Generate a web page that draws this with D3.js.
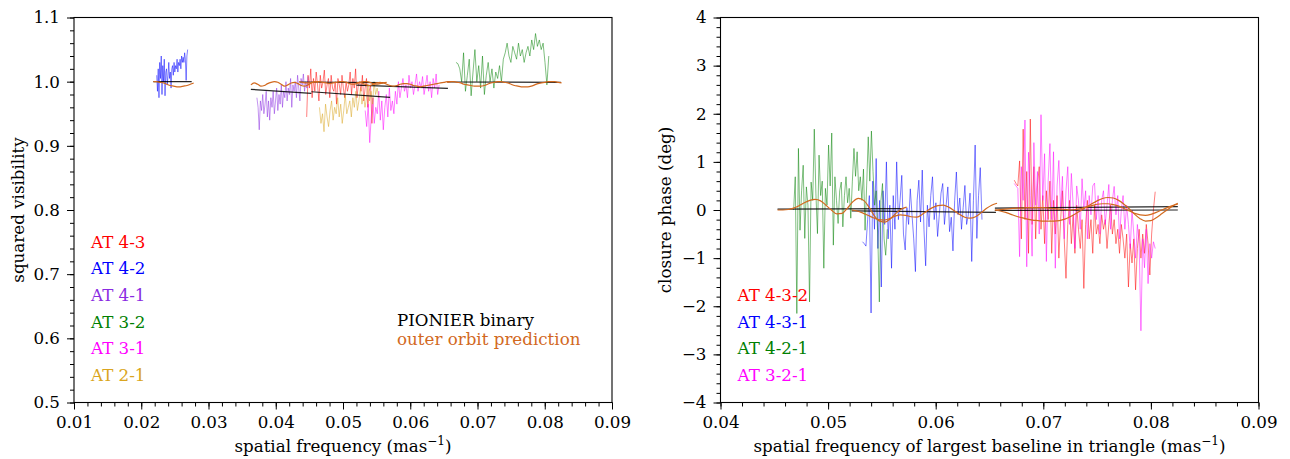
<!DOCTYPE html>
<html>
<head>
    <meta charset="utf-8">
    <title>PIONIER squared visibility and closure phase</title>
    <script src="https://d3js.org/d3.v7.min.js"></script>
    <style>
        body { margin: 0; background: #fff; }
        text { font-family: "DejaVu Serif", serif; }
    </style>
</head>
<body>
<div id="chart"></div>
<script>
// ---- squared visibility, one array per baseline, plus its frequency range ----
const v2_43 = [0.945, 1.010, 0.990, 1.020, 0.975, 1.005, 0.985, 1.015, 0.995, 0.970, 1.010, 0.990, 1.000, 1.018, 0.980,
    0.995, 1.005, 0.975, 1.010, 0.990, 0.985, 1.000, 0.965, 1.005, 0.995, 0.980, 1.010, 0.990, 0.975, 1.000, 0.985,
    0.995, 1.015, 0.980, 1.005, 0.990, 1.020, 0.975, 0.995, 1.000, 0.985, 1.010, 0.970, 0.990, 1.005, 0.960, 0.985,
    0.995, 0.935, 0.975];
const v2_42 = [1.010, 0.985, 1.020, 0.975, 1.030, 1.005, 1.040, 0.980, 1.025, 1.000, 1.035, 0.978, 1.015, 1.020, 0.995,
    1.010, 1.030, 1.005, 1.015, 0.990, 1.020, 1.025, 1.010, 1.030, 1.015, 1.025, 1.020, 1.035, 1.015, 1.030, 1.025,
    1.035, 1.020, 1.040, 1.030, 1.038, 1.030, 1.045, 1.035, 1.002, 1.040, 1.050];
const v2_41 = [0.975, 0.960, 0.925, 0.970, 0.955, 0.980, 0.950, 0.965, 0.985, 0.945, 0.970, 0.940, 0.975, 0.960, 0.985,
    0.950, 0.970, 0.990, 0.955, 0.980, 0.965, 0.995, 0.960, 0.985, 0.975, 1.000, 0.970, 0.990, 0.980, 1.005, 0.960,
    0.995, 0.985, 1.000, 0.975, 1.010, 0.990, 0.970, 1.005, 0.995, 1.012, 0.985, 1.000, 0.990, 1.008];
const v2_32 = [1.030, 1.028, 1.020, 1.000, 1.045, 0.985, 1.010, 1.035, 0.978, 1.015, 1.050, 1.000, 1.025, 0.990, 1.040,
    0.980, 1.010, 1.030, 1.000, 1.020, 0.990, 1.015, 1.005, 1.025, 1.000, 1.035, 1.045, 1.060, 1.040, 1.030, 1.055,
    1.045, 1.035, 1.060, 1.040, 1.050, 1.030, 1.045, 1.055, 1.040, 1.065, 1.050, 1.075, 1.055, 1.065, 1.050, 1.060,
    1.030, 0.995, 1.040];
const v2_31 = [0.955, 0.930, 0.965, 0.905, 0.945, 0.975, 0.935, 0.960, 0.950, 0.985, 0.940, 0.970, 0.925, 0.960, 0.980,
    0.945, 0.990, 0.955, 0.970, 0.950, 0.985, 0.965, 1.000, 0.975, 0.990, 1.005, 0.985, 0.995, 0.975, 1.010, 0.990,
    1.000, 0.980, 0.995, 1.012, 0.985, 1.000, 0.990, 1.008, 0.980, 0.995, 1.010, 0.985, 1.000, 0.975, 1.005, 0.990,
    1.012, 0.980, 0.995];
const v2_21 = [0.960, 0.935, 0.950, 0.922, 0.965, 0.945, 0.930, 0.955, 0.970, 0.940, 0.960, 0.950, 0.975, 0.945, 0.965,
    0.935, 0.955, 0.980, 0.950, 0.960, 0.970, 0.945, 0.975, 0.960, 0.985, 0.955, 0.970, 0.990, 0.965, 0.980, 0.960,
    0.975, 0.995, 0.970, 0.985, 0.965, 1.000, 0.980, 0.990, 0.975];

const v2Freq43 = [0.0446, 0.0545];
const v2Freq42 = [0.0223, 0.0269];
const v2Freq41 = [0.0372, 0.0448];
const v2Freq32 = [0.0668, 0.0806];
const v2Freq31 = [0.0533, 0.0643];
const v2Freq21 = [0.0465, 0.0553];

// binary model (straight segments) and outer orbit prediction for V2
const v2Model = [
    [[0.0218, 1.000], [0.0275, 1.000]],
    [[0.0363, 0.988], [0.0453, 0.9817]],
    [[0.0453, 0.9843], [0.0570, 0.9754]],
    [[0.0435, 0.9995], [0.0560, 0.9985]],
    [[0.0520, 0.9947], [0.0656, 0.9894]],
    [[0.0655, 0.9995], [0.0824, 0.9990]]
];
const v2Pred42 = [1.000, 1.000, 0.999, 0.998, 0.996, 0.994, 0.993, 0.992, 0.992, 0.993, 0.994, 0.996, 0.998];
const v2Pred41 = [0.995, 0.998, 0.996, 0.993, 0.994, 0.997, 0.999, 1.000, 0.999, 0.996, 0.993, 0.995, 0.998, 0.999,
    0.997, 0.994, 0.993, 0.995, 0.998, 1.000, 0.999];
const v2Pred43 = [1.000, 0.999, 0.998, 0.998, 0.999, 1.000, 1.000, 0.999, 0.998, 0.997, 0.998, 0.999, 1.000, 1.000,
    0.999, 0.997, 0.996, 0.997, 0.999, 1.000, 1.000, 0.999, 0.997, 0.996, 0.997, 0.998, 0.999];
const v2Pred31 = [0.998, 0.999, 0.997, 0.995, 0.994, 0.996, 0.998, 0.999, 0.998, 0.996, 0.994, 0.993, 0.994, 0.996,
    0.997, 0.997, 0.996, 0.994, 0.993, 0.992, 0.993, 0.994, 0.995, 0.996, 0.997, 0.998, 0.999, 1.000, 1.000];
const v2Pred32 = [0.999, 1.000, 1.000, 0.999, 0.998, 0.996, 0.995, 0.994, 0.993, 0.993, 0.993, 0.994, 0.996, 0.998,
    0.999, 1.000, 1.000, 0.999, 0.998, 0.996, 0.994, 0.993, 0.992, 0.992, 0.992, 0.993, 0.995, 0.997, 0.998, 0.999,
    1.000, 1.000, 1.000, 0.999, 0.998];
const v2PredFreq42 = [0.0218, 0.0278];
const v2PredFreq41 = [0.0363, 0.0463];
const v2PredFreq43 = [0.0435, 0.0565];
const v2PredFreq31 = [0.0520, 0.0660];
const v2PredFreq32 = [0.0655, 0.0825];

// ---- closure phases (deg), one array per triangle ----
const cp_432 = [0.62, 0.55, 0.50, 1.02, -0.60, 1.68, -0.20, 0.80, -0.90, 1.89, -0.30, 0.90, -0.60, 0.50, 0.90, -0.40,
    0.30, -0.70, 0.40, -0.20, 0.60, -0.90, 0.20, -0.50, 0.30, -1.00, -0.20, 0.40, -0.60, -1.42, -0.30, 0.20, -0.70,
    -0.10, -0.90, 0.10, -0.40, -0.80, -0.20, -1.63, -0.30, 0.20, -0.60, -0.20, -0.90, 0.10, -0.50, -0.30, -0.70,
    -0.10, -0.40, -0.20, -0.80, -0.30, 0.10, -0.50, -0.20, -0.70, -0.40, -0.90, -0.30, -0.60, -1.00, -0.50, -1.60,
    -0.70, -1.10, -0.60, -1.66, -0.80, -0.40, -1.00, -0.50, -0.90, -0.30, -0.70, -1.35, -0.50, 0.00, 0.38];
const cp_431 = [-0.66, -0.70, -0.75, -0.20, 0.30, -2.14, 0.60, -0.40, 1.07, -0.80, 0.20, -1.60, 0.40, -0.30, 1.00,
    -0.60, 0.10, -1.21, 0.30, -0.40, 1.00, -0.20, 0.20, 0.72, -0.50, -0.83, 0.05, -0.30, 0.44, -0.10, -0.60, -1.28,
    0.20, 0.62, -0.25, 0.83, -0.40, -1.16, 0.10, -0.35, 0.30, 0.69, -0.20, 0.15, -0.55, -0.10, 0.35, 0.55, -0.30,
    0.10, 0.48, -0.45, -0.15, -0.85, 0.20, 0.79, -0.10, 0.25, -0.40, 0.05, 0.51, -0.30, -0.10, 0.35, -1.07, 0.20,
    1.35, -0.59, 0.30, 0.88, -0.20];
const cp_421 = [0.00, 0.69, -2.15, 1.28, -0.42, 0.40, 0.93, -0.59, 0.48, 0.10, -1.91, 0.58, 0.20, 1.68, 0.35, -0.49,
    1.14, 0.30, 0.60, -1.21, 0.45, 0.10, 1.35, 0.50, 1.60, -0.73, 0.69, 0.20, -0.28, 0.40, 0.58, -0.35, 0.30, 0.69,
    0.15, 0.45, -0.17, 0.60, 1.28, 0.70, 1.21, 0.40, 0.69, 0.20, 0.85, -0.42, 0.50, 1.52, 0.60, 1.64, 0.80, 0.10,
    0.40, -0.50, -1.91, 0.20, 0.55, -0.60, -0.94, -0.40];
const cp_321 = [0.55, 0.50, 0.45, -0.97, 0.90, 0.20, 1.87, -1.18, 1.20, 0.30, -0.96, 1.40, 0.10, 0.80, -0.50, 1.98,
    0.20, 1.17, -1.07, 0.60, 1.38, -0.20, 1.21, -1.21, 0.50, 1.03, 0.00, 0.70, -0.60, 0.40, 0.90, -0.30, 0.76, 0.10,
    -0.80, 0.50, 0.20, -0.40, 0.65, 0.00, 0.40, -0.60, 0.30, -0.10, 0.50, 0.56, -0.20, 0.30, -0.50, 0.20, 0.40, -0.30,
    0.10, 0.53, -0.40, 0.20, 0.49, -0.10, 0.30, -0.60, 0.00, 0.30, -0.40, 0.10, -0.30, -0.80, 0.00, -0.50, -1.00,
    -0.30, -0.70, -2.51, -0.60, -1.20, -0.40, -1.53, -0.70, -1.00, -0.66, -0.80];

const cpFreq432 = [0.0673, 0.0804];
const cpFreq431 = [0.0532, 0.0643];
const cpFreq421 = [0.0468, 0.0555];
const cpFreq321 = [0.0673, 0.0804];

const cpModel = [
    [[0.0453, 0.02], [0.0570, 0.03]],
    [[0.0522, -0.02], [0.0656, -0.05]],
    [[0.0655, 0.04], [0.0825, 0.07]],
    [[0.0655, -0.01], [0.0825, 0.00]]
];
const cpPred421 = [0.00, 0.00, 0.01, 0.04, 0.09, 0.15, 0.20, 0.22, 0.19, 0.10, 0.00, -0.08, -0.07, 0.04, 0.17, 0.24,
    0.20, 0.06, -0.12, -0.23, -0.25, -0.18, -0.07, 0.02, 0.06];
const cpPred431 = [0.00, -0.02, -0.06, -0.11, -0.16, -0.20, -0.21, -0.18, -0.13, -0.10, -0.11, -0.14, -0.15, -0.10,
    -0.02, 0.05, 0.09, 0.10, 0.06, -0.01, -0.09, -0.15, -0.17, -0.14, -0.06, 0.03, 0.10, 0.14];
const cpPred432 = [0.00, -0.02, -0.05, -0.09, -0.13, -0.16, -0.19, -0.21, -0.22, -0.23, -0.23, -0.23, -0.22, -0.19,
    -0.14, -0.08, -0.01, 0.06, 0.13, 0.19, 0.24, 0.26, 0.25, 0.20, 0.12, 0.02, -0.09, -0.18, -0.23, -0.22, -0.16,
    -0.08, 0.00, 0.08, 0.14];
const cpPred321 = [0.00, 0.01, 0.02, 0.03, 0.04, 0.04, 0.05, 0.05, 0.05, 0.05, 0.04, 0.03, 0.02, 0.01, 0.00, 0.01,
    0.03, 0.06, 0.09, 0.12, 0.13, 0.13, 0.11, 0.08, 0.03, -0.02, -0.07, -0.10, -0.11, -0.09, -0.05, 0.00, 0.05, 0.09,
    0.12];
const cpPredFreq421 = [0.0453, 0.0573];
const cpPredFreq431 = [0.0522, 0.0657];
const cpPredFreq432 = [0.0655, 0.0825];
const cpPredFreq321 = [0.0655, 0.0825];

// ticks
const v2XTicks = [0.01, 0.02, 0.03, 0.04, 0.05, 0.06, 0.07, 0.08, 0.09];
const v2YTicks = [0.5, 0.6, 0.7, 0.8, 0.9, 1.0, 1.1];
const cpXTicks = [0.04, 0.05, 0.06, 0.07, 0.08, 0.09];
const cpYTicks = [-4, -3, -2, -1, 0, 1, 2, 3, 4];

const width = 1290;
const height = 459;
const fs = 16.7;
const plotW = 538;
const plotTop = 17.5;
const plotBottom = 402.5;
const predColor = '#d2691e';

const svg = d3.select('#chart')
    .append('svg')
    .attr('width', width)
    .attr('height', height);

svg.append('rect').attr('width', width).attr('height', height).attr('fill', '#fff');

// spread the spectral channels of one series evenly over its frequency range
function toPoints(values, freq) {
    const idx = d3.scaleLinear().domain([0, values.length - 1]).range(freq);
    return values.map((v, i) => [idx(i), v]);
}

function drawPanel(p) {
    const x = d3.scaleLinear().domain(p.xDomain).range([p.left, p.left + plotW]);
    const y = d3.scaleLinear().domain(p.yDomain).range([plotBottom, plotTop]);
    const g = svg.append('g');
    const line = d3.line().x(d => x(d[0])).y(d => y(d[1]));

    // minor ticks
    g.append('g')
        .attr('transform', `translate(0,${plotBottom})`)
        .call(d3.axisBottom(x).tickValues(p.xMinor).tickSize(4).tickFormat(''));
    g.append('g')
        .attr('transform', `translate(${p.left},0)`)
        .call(d3.axisLeft(y).tickValues(p.yMinor).tickSize(4).tickFormat(''));
    // major ticks
    g.append('g')
        .attr('transform', `translate(0,${plotBottom})`)
        .call(d3.axisBottom(x).tickValues(p.xTicks).tickSize(7).tickPadding(7).tickFormat(d3.format('.2f')));
    g.append('g')
        .attr('transform', `translate(${p.left},0)`)
        .call(d3.axisLeft(y).tickValues(p.yTicks).tickSize(7).tickPadding(7).tickFormat(p.yFormat));
    g.selectAll('.domain').remove();
    g.selectAll('.tick line').attr('stroke', '#000');
    g.selectAll('.tick text')
        .attr('font-family', '"DejaVu Serif", serif')
        .attr('font-size', fs)
        .attr('fill', '#000');

    // data
    p.series.forEach(s => {
        g.append('path')
            .datum(toPoints(s.values, s.freq))
            .attr('d', line)
            .attr('fill', 'none')
            .attr('stroke', s.color)
            .attr('stroke-opacity', 0.5)
            .attr('stroke-width', 1);
    });
    p.models.forEach(m => {
        g.append('path')
            .datum(m)
            .attr('d', line)
            .attr('fill', 'none')
            .attr('stroke', '#000')
            .attr('stroke-opacity', 0.85)
            .attr('stroke-width', 1.2);
    });
    p.preds.forEach(s => {
        g.append('path')
            .datum(toPoints(s.values, s.freq))
            .attr('d', d3.line().curve(d3.curveMonotoneX).x(d => x(d[0])).y(d => y(d[1])))
            .attr('fill', 'none')
            .attr('stroke', predColor)
            .attr('stroke-width', 1.2);
    });

    // frame
    g.append('rect')
        .attr('x', p.left)
        .attr('y', plotTop)
        .attr('width', plotW)
        .attr('height', plotBottom - plotTop)
        .attr('fill', 'none')
        .attr('stroke', '#000')
        .attr('stroke-width', 1.1);

    // axis titles
    const xt = g.append('text')
        .attr('x', p.left + plotW / 2)
        .attr('y', 452)
        .attr('text-anchor', 'middle')
        .attr('font-size', fs)
        .attr('fill', '#000');
    xt.append('tspan').text(p.xLabel + ' (mas');
    xt.append('tspan').attr('dy', -7).attr('font-size', 12).text('\u22121');
    xt.append('tspan').attr('dy', 7).text(')');

    g.append('text')
        .attr('transform', `translate(${p.yLabelX},${(plotTop + plotBottom) / 2}) rotate(-90)`)
        .attr('text-anchor', 'middle')
        .attr('font-size', fs)
        .attr('fill', '#000')
        .text(p.yLabel);

    // legend
    p.series.forEach((s, i) => {
        g.append('text')
            .attr('x', p.left + p.legendDx)
            .attr('y', p.legendY + i * 26.67)
            .attr('font-size', fs)
            .attr('fill', s.color)
            .text(s.label);
    });
    return g;
}

const left = drawPanel({
    left: 74,
    xDomain: [0.01, 0.09],
    yDomain: [0.5, 1.1],
    xTicks: v2XTicks,
    yTicks: v2YTicks,
    xMinor: d3.range(0.01, 0.0901, 0.002),
    yMinor: d3.range(0.5, 1.1001, 0.02),
    yFormat: d3.format('.1f'),
    xLabel: 'spatial frequency',
    yLabel: 'squared visibility',
    yLabelX: 24,
    legendDx: 17,
    legendY: 247.7,
    series: [
        { label: 'AT 4-3', color: 'red', values: v2_43, freq: v2Freq43 },
        { label: 'AT 4-2', color: 'blue', values: v2_42, freq: v2Freq42 },
        { label: 'AT 4-1', color: 'blueviolet', values: v2_41, freq: v2Freq41 },
        { label: 'AT 3-2', color: 'green', values: v2_32, freq: v2Freq32 },
        { label: 'AT 3-1', color: 'magenta', values: v2_31, freq: v2Freq31 },
        { label: 'AT 2-1', color: 'goldenrod', values: v2_21, freq: v2Freq21 }
    ],
    models: v2Model,
    preds: [
        { values: v2Pred42, freq: v2PredFreq42 },
        { values: v2Pred41, freq: v2PredFreq41 },
        { values: v2Pred43, freq: v2PredFreq43 },
        { values: v2Pred31, freq: v2PredFreq31 },
        { values: v2Pred32, freq: v2PredFreq32 }
    ]
});

left.append('text')
    .attr('x', 397)
    .attr('y', 326)
    .attr('font-size', fs)
    .attr('fill', '#000')
    .text('PIONIER binary');
left.append('text')
    .attr('x', 397)
    .attr('y', 345)
    .attr('font-size', fs)
    .attr('fill', predColor)
    .text('outer orbit prediction');

drawPanel({
    left: 720.5,
    xDomain: [0.04, 0.09],
    yDomain: [-4, 4],
    xTicks: cpXTicks,
    yTicks: cpYTicks,
    xMinor: d3.range(0.04, 0.0901, 0.002),
    yMinor: d3.range(-4, 4.001, 0.2),
    yFormat: d3.format('d'),
    xLabel: 'spatial frequency of largest baseline in triangle',
    yLabel: 'closure phase (deg)',
    yLabelX: 671,
    legendDx: 17,
    legendY: 301,
    series: [
        { label: 'AT 4-3-2', color: 'red', values: cp_432, freq: cpFreq432 },
        { label: 'AT 4-3-1', color: 'blue', values: cp_431, freq: cpFreq431 },
        { label: 'AT 4-2-1', color: 'green', values: cp_421, freq: cpFreq421 },
        { label: 'AT 3-2-1', color: 'magenta', values: cp_321, freq: cpFreq321 }
    ],
    models: cpModel,
    preds: [
        { values: cpPred421, freq: cpPredFreq421 },
        { values: cpPred431, freq: cpPredFreq431 },
        { values: cpPred432, freq: cpPredFreq432 },
        { values: cpPred321, freq: cpPredFreq321 }
    ]
});
</script>
</body>
</html>
